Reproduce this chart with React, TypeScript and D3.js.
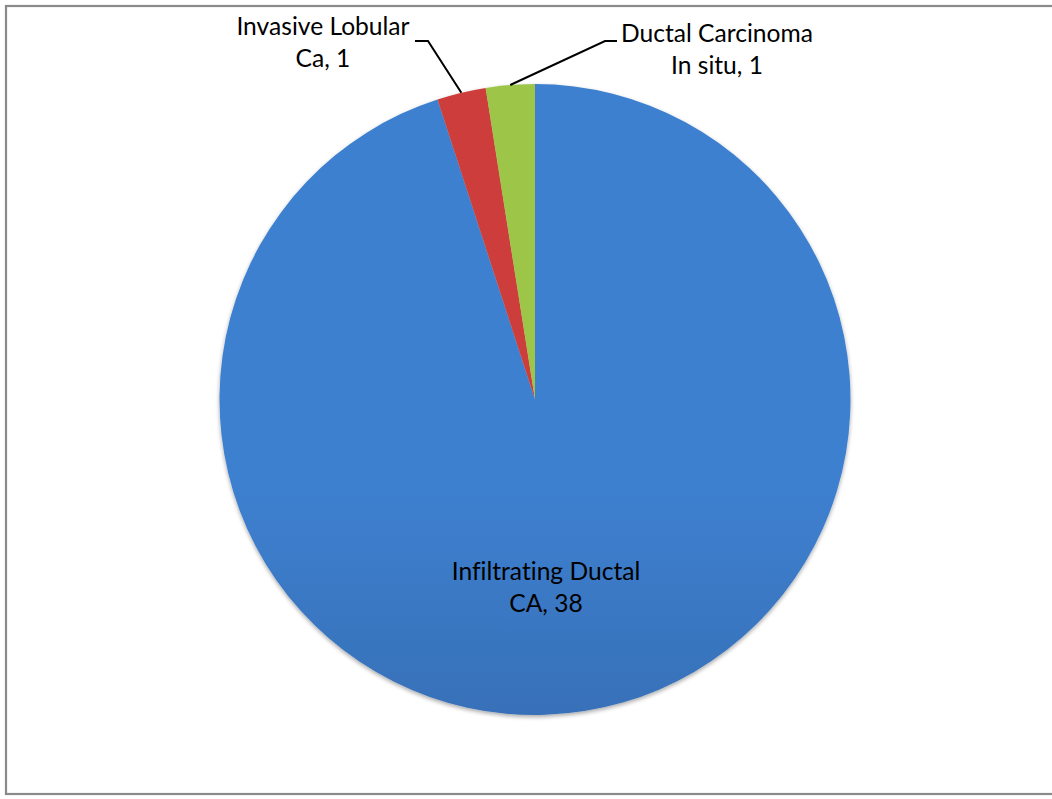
import React from "react";
import * as d3 from "d3";

// Diagnosis categories and case counts
const categories = ["Infiltrating Ductal CA", "Invasive Lobular Ca", "Ductal Carcinoma In situ"];
const labelLines = [
  ["Infiltrating Ductal", "CA, 38"],
  ["Invasive Lobular", "Ca, 1"],
  ["Ductal Carcinoma", "In situ, 1"],
];
const counts = [38, 1, 1];
const topColors = ["#3e80d0", "#cd3e3a", "#9dc64a"];
const bottomColors = ["#2a568f", "#a52d29", "#82a638"];

const W = 1052;
const H = 799;
const cx = 535;
const cy = 399.5;
const R = 315.5;
const FONT = "Lato, 'Open Sans', sans-serif";
const FONT_SIZE = 24.6;
const LINE_H = 32;

// Label layout: text centre, first baseline, leader elbow (for outside labels)
const labelLayout = [
  { x: 546, y: 580, elbow: null as null | { ex: number; ey: number; hx: number } },
  { x: 323, y: 35, elbow: { ex: 428, ey: 41, hx: 415 } },
  { x: 717, y: 42, elbow: { ex: 605, ey: 41, hx: 617 } },
];

export default function App() {
  const pie = d3
    .pie<number>()
    .sort(null)
    .value((d) => d)
    .startAngle(0)
    .endAngle(2 * Math.PI);
  const arcs = pie(counts);
  const arc = d3.arc<d3.PieArcDatum<number>>().innerRadius(0).outerRadius(R);

  return (
    <svg
      width={W}
      height={H}
      style={{ position: "absolute", left: 0, top: 0, display: "block", background: "#fff" }}
    >
      <defs>
        {categories.map((c, i) => (
          <linearGradient
            key={c}
            id={`grad${i}`}
            gradientUnits="userSpaceOnUse"
            x1={0}
            y1={cy - R}
            x2={0}
            y2={cy + R}
          >
            <stop offset="0" stopColor={topColors[i]} />
            <stop offset="1" stopColor={bottomColors[i]} />
          </linearGradient>
        ))}
        <filter id="pieShadow" x="-10%" y="-10%" width="120%" height="120%">
          <feGaussianBlur in="SourceAlpha" stdDeviation="2" />
          <feOffset dx="0" dy="2" result="blur" />
          <feComponentTransfer>
            <feFuncA type="linear" slope="0.35" />
          </feComponentTransfer>
          <feMerge>
            <feMergeNode />
            <feMergeNode in="SourceGraphic" />
          </feMerge>
        </filter>
      </defs>

      {/* chart frame */}
      <rect x={6} y={6} width={W + 10} height={788} fill="#fff" stroke="#8a8a8a" strokeWidth={2.2} />

      <g transform={`translate(${cx},${cy})`} filter="url(#pieShadow)">
        {arcs.map((a, i) => (
          <path key={categories[i]} d={arc(a) || ""} fill={`url(#grad${i})`} />
        ))}
      </g>

      {/* leader lines for the small slices */}
      {arcs.map((a, i) => {
        const el = labelLayout[i].elbow;
        if (!el) return null;
        const mid = (a.startAngle + a.endAngle) / 2;
        const px = cx + R * Math.sin(mid);
        const py = cy - R * Math.cos(mid);
        return (
          <polyline
            key={`lead${i}`}
            points={`${px},${py} ${el.ex},${el.ey} ${el.hx},${el.ey}`}
            fill="none"
            stroke="#000"
            strokeWidth={2}
          />
        );
      })}

      {labelLines.map((lines, i) => (
        <text
          key={`lab${i}`}
          x={labelLayout[i].x}
          y={labelLayout[i].y}
          textAnchor="middle"
          fontFamily={FONT}
          fontSize={FONT_SIZE}
          fill="#000"
          style={{ fontVariantLigatures: "none" }}
        >
          {lines.map((t, j) => (
            <tspan key={j} x={labelLayout[i].x} dy={j === 0 ? 0 : LINE_H}>
              {t}
            </tspan>
          ))}
        </text>
      ))}
    </svg>
  );
}
